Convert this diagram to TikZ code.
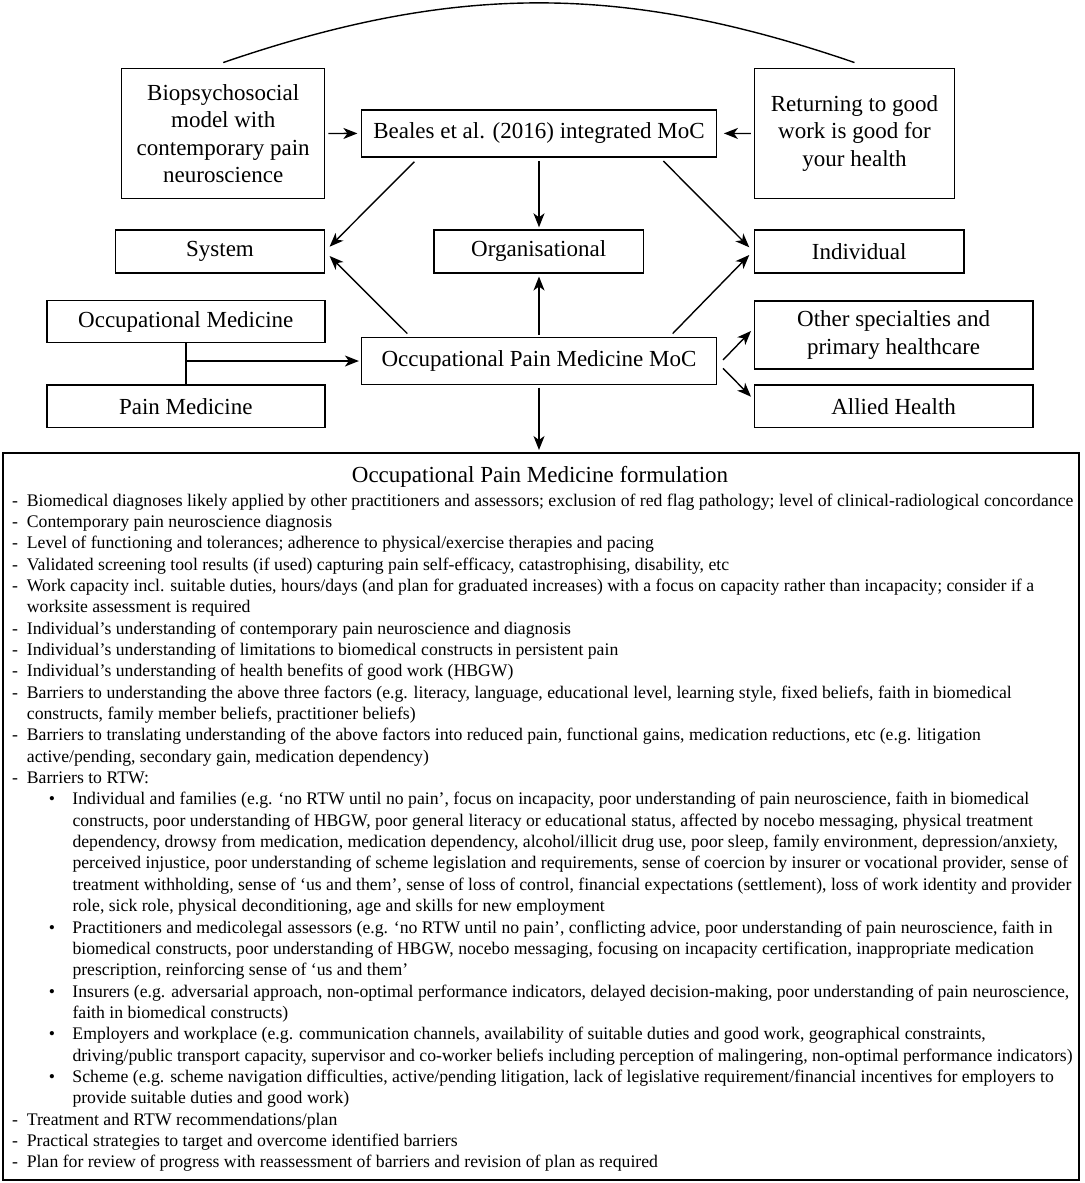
\documentclass[tikz,border=0pt]{standalone}
\usepackage{fontspec}
\setmainfont{Liberation Serif}
\usetikzlibrary{arrows.meta,calc}
\newcommand{\ditem}{\makebox[14.7pt][l]{-}}
\newcommand{\dcont}{\hspace*{14.7pt}}
\newcommand{\bitem}{\hspace*{36.7pt}\makebox[23.6pt][l]{•}}
\newcommand{\bcont}{\hspace*{60.3pt}}
\begin{document}
\begin{tikzpicture}[x=1pt,y=-1pt,
  box/.style={draw, line width=1.5pt, inner sep=0pt, align=center, font=\fontsize{23}{27.5}\selectfont},
  arr/.style={-{Stealth[length=14pt,width=11pt,inset=4pt]}, line width=1.4pt},
  ln/.style={line width=1.4pt}]
\useasboundingbox (0,0) rectangle (1084,1183);
\fill[white] (0,0) rectangle (1084,1183);

\node[box, minimum width=203pt, minimum height=130.4pt] (bio) at (223.2,133.5) {Biopsychosocial\\model with\\contemporary pain\\neuroscience};
\node[box, minimum width=354.7pt, minimum height=46.7pt] (beales) at (539,133.4) {Beales et al. (2016) integrated MoC};
\node[box, minimum width=200.2pt, minimum height=130.4pt] (ret) at (854.5,133.5) {Returning to good\\work is good for\\your health};
\node[box, minimum width=209.3pt, minimum height=42.7pt] (system) at (220,251.4) {System};
\node[box, minimum width=209.5pt, minimum height=42.7pt] (org) at (538.7,251.4) {Organisational};
\node[box, minimum width=209.6pt, minimum height=42.7pt] (indiv) at (859.2,251.4) {Individual};
\node[box, minimum width=277.9pt, minimum height=42pt] (occmed) at (185.8,321.7) {Occupational Medicine};
\node[box, minimum width=277.9pt, minimum height=42.3pt] (painmed) at (185.8,406.2) {Pain Medicine};
\node[box, minimum width=354.7pt, minimum height=46.6pt] (opm) at (539,361) {Occupational Pain Medicine MoC};
\node[box, minimum width=278.3pt, minimum height=68.3pt] (other) at (893.6,334.9) {Other specialties and\\primary healthcare};
\node[box, minimum width=278.3pt, minimum height=42.3pt] (allied) at (893.6,406.2) {Allied Health};

\node[draw, line width=1.8pt, inner sep=0pt, minimum width=1076pt, minimum height=727pt, anchor=north west] (form) at (2,452) {};
\node[anchor=base, inner sep=0pt, font=\fontsize{23}{27.5}\selectfont] (title) at (540,482) {Occupational Pain Medicine formulation};
\node[anchor=base west, inner sep=0pt, font=\fontsize{17.7}{21.35}\selectfont] (body) at (12,506) {\parbox[t]{1100pt}{%
\ditem Biomedical diagnoses likely applied by other practitioners and assessors; exclusion of red flag pathology; level of clinical-radiological concordance\\
\ditem Contemporary pain neuroscience diagnosis\\
\ditem Level of functioning and tolerances; adherence to physical/exercise therapies and pacing\\
\ditem Validated screening tool results (if used) capturing pain self-efficacy, catastrophising, disability, etc\\
\ditem Work capacity incl. suitable duties, hours/days (and plan for graduated increases) with a focus on capacity rather than incapacity; consider if a\\
\dcont worksite assessment is required\\
\ditem Individual’s understanding of contemporary pain neuroscience and diagnosis\\
\ditem Individual’s understanding of limitations to biomedical constructs in persistent pain\\
\ditem Individual’s understanding of health benefits of good work (HBGW)\\
\ditem Barriers to understanding the above three factors (e.g. literacy, language, educational level, learning style, fixed beliefs, faith in biomedical\\
\dcont constructs, family member beliefs, practitioner beliefs)\\
\ditem Barriers to translating understanding of the above factors into reduced pain, functional gains, medication reductions, etc (e.g. litigation\\
\dcont active/pending, secondary gain, medication dependency)\\
\ditem Barriers to RTW:\\
\bitem Individual and families (e.g. ‘no RTW until no pain’, focus on incapacity, poor understanding of pain neuroscience, faith in biomedical\\
\bcont constructs, poor understanding of HBGW, poor general literacy or educational status, affected by nocebo messaging, physical treatment\\
\bcont dependency, drowsy from medication, medication dependency, alcohol/illicit drug use, poor sleep, family environment, depression/anxiety,\\
\bcont perceived injustice, poor understanding of scheme legislation and requirements, sense of coercion by insurer or vocational provider, sense of\\
\bcont treatment withholding, sense of ‘us and them’, sense of loss of control, financial expectations (settlement), loss of work identity and provider\\
\bcont role, sick role, physical deconditioning, age and skills for new employment\\
\bitem Practitioners and medicolegal assessors (e.g. ‘no RTW until no pain’, conflicting advice, poor understanding of pain neuroscience, faith in\\
\bcont biomedical constructs, poor understanding of HBGW, nocebo messaging, focusing on incapacity certification, inappropriate medication\\
\bcont prescription, reinforcing sense of ‘us and them’\\
\bitem Insurers (e.g. adversarial approach, non-optimal performance indicators, delayed decision-making, poor understanding of pain neuroscience,\\
\bcont faith in biomedical constructs)\\
\bitem Employers and workplace (e.g. communication channels, availability of suitable duties and good work, geographical constraints,\\
\bcont driving/public transport capacity, supervisor and co-worker beliefs including perception of malingering, non-optimal performance indicators)\\
\bitem Scheme (e.g. scheme navigation difficulties, active/pending litigation, lack of legislative requirement/financial incentives for employers to\\
\bcont provide suitable duties and good work)\\
\ditem Treatment and RTW recommendations/plan\\
\ditem Practical strategies to target and overcome identified barriers\\
\ditem Plan for review of progress with reassessment of barriers and revision of plan as required}};

\draw[ln] ([yshift=5pt]bio.north) .. controls (455,-17) and (623,-17) .. ([yshift=5pt]ret.north);
\draw[arr, shorten <=3pt, shorten >=3.5pt] (bio.east) -- (beales.west);
\draw[arr, shorten <=2.7pt, shorten >=6.8pt] (ret.west) -- (beales.east);
\draw[arr] ($(beales.south west)+(53.4,4.3)$) -- ($(system.east)+(4.2,-4.7)$);
\draw[arr, shorten <=3.5pt, shorten >=2pt] (beales.south) -- (beales.south |- org.north);
\draw[arr] ($(beales.south east)+(-53.8,3.5)$) -- ($(indiv.west)+(-4.4,-4.1)$);
\draw[arr] ($(opm.north west)+(46.4,-3.4)$) -- ($(system.east)+(4.2,4.6)$);
\draw[arr, shorten <=2pt, shorten >=3pt] (opm.north) -- (opm.north |- org.south);
\draw[arr] ($(opm.north east)+(-44.4,-3.4)$) -- ($(indiv.west)+(-4.4,3.6)$);
\draw[arr] ($(opm.east)+(5.9,-1)$) -- ($(other.west)+(-2.7,-3.9)$);
\draw[arr] ($(opm.east)+(5.9,7.3)$) -- ($(allied.west)+(-2.7,-9.5)$);
\draw[arr, shorten <=2.5pt, shorten >=2pt] (opm.south) -- (opm.south |- form.north);
\draw[ln] (occmed.south) -- (painmed.north);
\coordinate (j) at (occmed.south |- opm.west);
\draw[arr, shorten >=2pt] (j) -- (opm.west);
\end{tikzpicture}
\end{document}
